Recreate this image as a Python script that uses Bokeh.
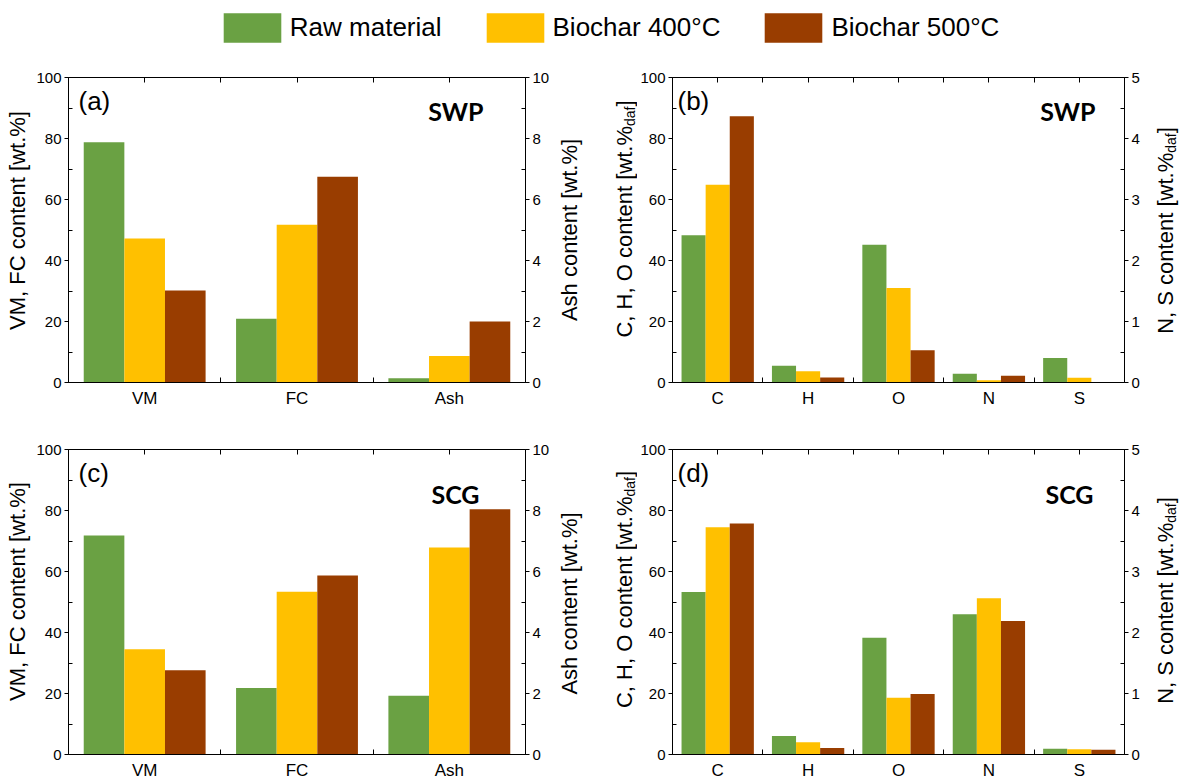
import numpy as np
from bokeh.plotting import figure
from bokeh.models import (Range1d, LinearAxis, FixedTicker, Label, Legend,
                          LegendItem, ColumnDataSource)
from bokeh.transform import dodge
from bokeh.layouts import column, row
from bokeh.embed import file_html
from bokeh.resources import INLINE

# ---------------- data ----------------
series_names = ["Raw material", "Biochar 400°C", "Biochar 500°C"]
series_colors = ["#6AA143", "#FFC000", "#993D00"]

prox_cats = ["VM", "FC", "Ash"]          # Ash on right axis (0-10)
prox_right = ["Ash"]
ult_cats = ["C", "H", "O", "N", "S"]     # N, S on right axis (0-5)
ult_right = ["N", "S"]

swp_prox_raw = [78.8, 20.9, 0.14]
swp_prox_400 = [47.2, 51.7, 0.87]
swp_prox_500 = [30.2, 67.5, 2.00]

scg_prox_raw = [71.8, 21.8, 1.93]
scg_prox_400 = [34.5, 53.4, 6.79]
scg_prox_500 = [27.6, 58.7, 8.04]

swp_ult_raw = [48.3, 5.5, 45.2, 0.142, 0.40]
swp_ult_400 = [64.8, 3.7, 31.0, 0.038, 0.077]
swp_ult_500 = [87.3, 1.6, 10.6, 0.109, 0.0]

scg_ult_raw = [53.3, 6.1, 38.3, 2.30, 0.093]
scg_ult_400 = [74.5, 4.0, 18.6, 2.56, 0.087]
scg_ult_500 = [75.7, 2.1, 19.8, 2.19, 0.076]

left_major = [0, 20, 40, 60, 80, 100]
left_minor = [10, 30, 50, 70, 90]
ash_major = [0, 2, 4, 6, 8, 10]
ash_minor = [1, 3, 5, 7, 9]
ns_major = [0, 1, 2, 3, 4, 5]
ns_minor = [0.5, 1.5, 2.5, 3.5, 4.5]

prox_left_title = "VM, FC content [wt.%]"
prox_right_title = "Ash content [wt.%]"
ult_left_title = "C, H, O content [wt.%"
ult_right_title = "N, S content [wt.%"
title_sub = "daf"

FONT = "Liberation Sans"
BOLD_FONT = "Lato"
BAR_W = 0.8 / 3

# approximate Arial advance widths (em) for composing sub-scripted titles
ARIAL_W = {"C": .722, ",": .278, " ": .278, "H": .722, "O": .778, "c": .5,
           "o": .556, "n": .556, "t": .278, "e": .556, "[": .278, "w": .722,
           ".": .278, "%": .889, "N": .722, "S": .667, "d": .556, "a": .556,
           "f": .278, "]": .278}


def tw(s, size):
    return sum(ARIAL_W.get(ch, .556) for ch in s) * size


def blank_fig(w, h):
    f = figure(width=w, height=h, x_range=Range1d(0, 1), y_range=Range1d(0, 1),
               output_backend="svg", toolbar_location=None,
               x_axis_location=None, y_axis_location=None, min_border=0)
    f.grid.visible = False
    f.outline_line_color = None
    return f


def title_fig(w, h, text, xc, yc, sub=None, size=22, sub_size=14, sub_xc=None):
    # xc: centre of the glyph body (rotated text), yc: centre along the frame height
    f = blank_fig(w, h)
    common = dict(x_units="screen", y_units="screen", angle=np.pi / 2,
                  text_baseline="middle", text_font=FONT, text_color="black")
    if sub is None:
        f.add_layout(Label(x=xc, y=yc, text=text, text_align="center",
                           text_font_size=f"{size}px", **common))
    else:
        mw = tw(text, size)
        sw = tw(sub, sub_size)
        bw = tw("]", size)
        start = yc - (mw + sw + bw) / 2
        f.add_layout(Label(x=xc, y=start, text=text, text_align="left",
                           text_font_size=f"{size}px", **common))
        f.add_layout(Label(x=sub_xc, y=start + mw, text=sub, text_align="left",
                           text_font_size=f"{sub_size}px", **common))
        f.add_layout(Label(x=xc, y=start + mw + sw, text="]", text_align="left",
                           text_font_size=f"{size}px", **common))
    return f


def style_axis(ax):
    ax.axis_line_color = "black"
    ax.major_tick_line_color = "black"
    ax.minor_tick_line_color = "black"
    ax.major_label_text_font = FONT
    ax.major_label_text_color = "black"


def make_panel(cats, right_cats, series, right_max, r_major, r_minor,
               tag, sample, geom, tag_dx, sample_dx, sample_dy):
    W, H, bl, br, bt, bb = geom
    n = len(cats)
    fh = H - bt - bb
    fw = W - bl - br
    p = figure(width=W, height=H, x_range=Range1d(0, n), y_range=Range1d(0, 100),
               output_backend="svg", toolbar_location=None,
               x_axis_location=None, y_axis_location=None,
               min_border_left=bl, min_border_right=br,
               min_border_top=bt, min_border_bottom=bb)
    p.extra_y_ranges = {"right": Range1d(0, right_max)}
    p.grid.visible = False
    p.outline_line_color = "black"
    p.outline_line_width = 1

    centers = [i + 0.5 for i in range(n)]
    bounds = [float(i) for i in range(1, n)]

    left = LinearAxis(ticker=FixedTicker(ticks=left_major, minor_ticks=left_minor),
                      major_tick_in=0, major_tick_out=4, minor_tick_in=4, minor_tick_out=0,
                      major_label_standoff=3, major_label_text_font_size="15px")
    style_axis(left)
    p.add_layout(left, "left")

    right = LinearAxis(y_range_name="right",
                       ticker=FixedTicker(ticks=r_major, minor_ticks=r_minor),
                       major_tick_in=0, major_tick_out=4, minor_tick_in=4, minor_tick_out=0,
                       major_label_standoff=3, major_label_text_font_size="15px")
    style_axis(right)
    p.add_layout(right, "right")

    bottom = LinearAxis(ticker=FixedTicker(ticks=centers, minor_ticks=bounds),
                        major_label_overrides={c: name for c, name in zip(centers, cats)},
                        major_tick_in=0, major_tick_out=0, minor_tick_in=5, minor_tick_out=0,
                        major_label_standoff=6, major_label_text_font_size="17px")
    style_axis(bottom)
    p.add_layout(bottom, "below")

    top_ticks = sorted(centers + bounds)
    top = LinearAxis(ticker=FixedTicker(ticks=top_ticks, minor_ticks=[]),
                     major_label_overrides={t: "" for t in top_ticks},
                     major_tick_in=5, major_tick_out=0, minor_tick_in=0, minor_tick_out=0,
                     major_label_standoff=0, major_label_text_font_size="1px")
    style_axis(top)
    p.add_layout(top, "above")

    xs = np.arange(n) + 0.5
    li = [i for i, c in enumerate(cats) if c not in right_cats]
    ri = [i for i, c in enumerate(cats) if c in right_cats]
    for k, (vals, color) in enumerate(zip(series, series_colors)):
        off = (k - 1) * BAR_W
        src_l = ColumnDataSource(dict(x=xs[li], top=[vals[i] for i in li]))
        p.vbar(x=dodge("x", off), top="top", bottom=0, width=BAR_W, source=src_l,
               fill_color=color, line_color=None)
        src_r = ColumnDataSource(dict(x=xs[ri], top=[vals[i] for i in ri]))
        p.vbar(x=dodge("x", off), top="top", bottom=0, width=BAR_W, source=src_r,
               fill_color=color, line_color=None, y_range_name="right")

    # panel tag, text centre ~23 px below frame top
    p.add_layout(Label(x=tag_dx, y=fh - 23.5, x_units="screen", y_units="screen",
                       text=tag, text_font=FONT, text_font_size="26px",
                       text_baseline="middle", text_color="black"))
    p.add_layout(Label(x=fw - sample_dx, y=fh - sample_dy, x_units="screen", y_units="screen",
                       text=sample, text_font=BOLD_FONT, text_font_style="bold",
                       text_font_size="25px", text_align="right",
                       text_baseline="middle", text_color="black"))
    return p


H1, H2 = 370, 352
# (width, height, border_left, border_right, border_top, border_bottom)
geom_a = (523, H1, 36, 30, 17, 48)
geom_b = (513, H1, 34, 26, 17, 48)
geom_c = (523, H2, 36, 30, 19, 28)
geom_d = (513, H2, 34, 26, 19, 28)

pa = make_panel(prox_cats, prox_right, [swp_prox_raw, swp_prox_400, swp_prox_500],
                10, ash_major, ash_minor, "(a)", "SWP", geom_a, 10, 42, 33.5)
pb = make_panel(ult_cats, ult_right, [swp_ult_raw, swp_ult_400, swp_ult_500],
                5, ns_major, ns_minor, "(b)", "SWP", geom_b, 5, 30, 33.5)
pc = make_panel(prox_cats, prox_right, [scg_prox_raw, scg_prox_400, scg_prox_500],
                10, ash_major, ash_minor, "(c)", "SCG", geom_c, 10, 46, 44.5)
pd_ = make_panel(ult_cats, ult_right, [scg_ult_raw, scg_ult_400, scg_ult_500],
                 5, ns_major, ns_minor, "(d)", "SCG", geom_d, 5, 32, 44.5)

# axis-title strips (their frames line up with the panel frames in each row)
ta_l = title_fig(32, H1, prox_left_title, 17.4, 162)
ta_r = title_fig(40, H1, prox_right_title, 14.4, 152.5)
tb_l = title_fig(42, H1, ult_left_title, 29.4, 163.5, sub=title_sub, sub_xc=34.6)
tb_r = title_fig(31, H1, ult_right_title, 15.4, 152, sub=title_sub, sub_xc=20.6)
tc_l = title_fig(32, H2, prox_left_title, 17.4, 163)
tc_r = title_fig(40, H2, prox_right_title, 14.4, 151)
td_l = title_fig(42, H2, ult_left_title, 29.4, 165, sub=title_sub, sub_xc=34.6)
td_r = title_fig(31, H2, ult_right_title, 15.4, 154, sub=title_sub, sub_xc=20.6)

# ---------------- legend strip ----------------
lg = blank_fig(1181, 60)
rends = [lg.vbar(x=[0.5], top=[0], bottom=0, width=0.01, fill_color=c, line_color=None)
         for c in series_colors]
legend = Legend(items=[LegendItem(label=nm, renderers=[r]) for nm, r in zip(series_names, rends)],
                orientation="horizontal", location=(215.8, 13.7),
                glyph_width=72, glyph_height=37, label_standoff=2, spacing=37,
                padding=0, margin=0, border_line_color=None, background_fill_alpha=0,
                label_text_font=FONT, label_text_font_size="26px", label_height=37,
                label_text_color="black")
lg.add_layout(legend, "center")

layout = column(lg,
                row(ta_l, pa, ta_r, tb_l, pb, tb_r),
                row(tc_l, pc, tc_r, td_l, pd_, td_r))

open("out.html", "w").write(file_html(layout, INLINE))
